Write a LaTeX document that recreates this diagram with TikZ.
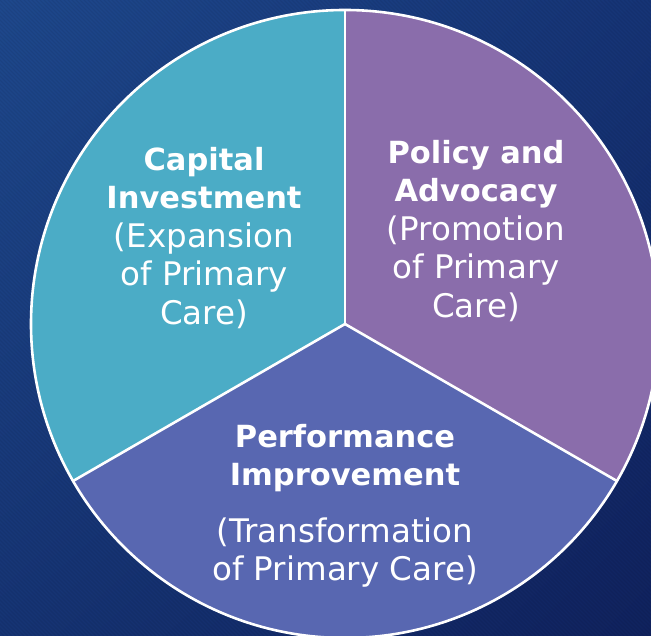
\documentclass[tikz,border=0pt]{standalone}
\usepackage{fontspec}
\usetikzlibrary{shadings}
\setmainfont{DejaVu Sans}
\definecolor{bgTL}{RGB}{30,72,140}
\definecolor{bgTR}{RGB}{22,52,118}
\definecolor{bgBL}{RGB}{22,52,116}
\definecolor{bgBR}{RGB}{16,34,94}
\definecolor{capcyan}{RGB}{75,172,198}
\definecolor{polpurple}{RGB}{138,109,171}
\definecolor{perfblue}{RGB}{88,103,177}
\tikzset{
  wedge/.style={draw=white, line width=2.6pt, line join=round},
  label/.style={text=white, align=center, inner sep=0pt,
    font=\fontsize{32.5}{38.5}\selectfont},
}
\newcommand{\headline}[1]{{\fontsize{30.5}{38.5}\selectfont\bfseries #1}}
\begin{document}
\begin{tikzpicture}[x=1pt,y=1pt]
  % background panel with a faint diagonal texture
  \useasboundingbox (0,0) rectangle (651,636);
  \shade[upper left=bgTL, upper right=bgTR, lower left=bgBL, lower right=bgBR]
    (0,0) rectangle (651,636);
  \begin{scope}
    \clip (0,0) rectangle (651,636);
    \foreach \x in {-640,-636,...,652}
      \draw[black, opacity=0.06, line width=1.2pt] (\x,636) -- (\x+636,0);
  \end{scope}

  % three-part circle
  \coordinate (C) at (345,312);
  \def\R{314}
  \fill[capcyan] (C) -- ++(90:\R) arc[start angle=90, end angle=210, radius=\R] -- cycle;
  \fill[perfblue] (C) -- ++(210:\R) arc[start angle=210, end angle=330, radius=\R] -- cycle;
  \fill[polpurple] (C) -- ++(-30:\R) arc[start angle=-30, end angle=90, radius=\R] -- cycle;
  \draw[wedge] (C) circle[radius=\R];
  \draw[wedge] (C) -- ++(90:\R);
  \draw[wedge] (C) -- ++(210:\R);
  \draw[wedge] (C) -- ++(330:\R);

  % sector labels
  \node[label] (capital) at (204,398)
    {\headline{Capital}\\\headline{Investment}\\(Expansion\\of Primary\\Care)};
  \node[label] (policy) at (476,405)
    {\headline{Policy and}\\\headline{Advocacy}\\(Promotion\\of Primary\\Care)};
  \node[label] (performance) at (345,130)
    {\headline{Performance}\\\headline{Improvement}\\[18pt](Transformation\\of Primary Care)};
\end{tikzpicture}
\end{document}
